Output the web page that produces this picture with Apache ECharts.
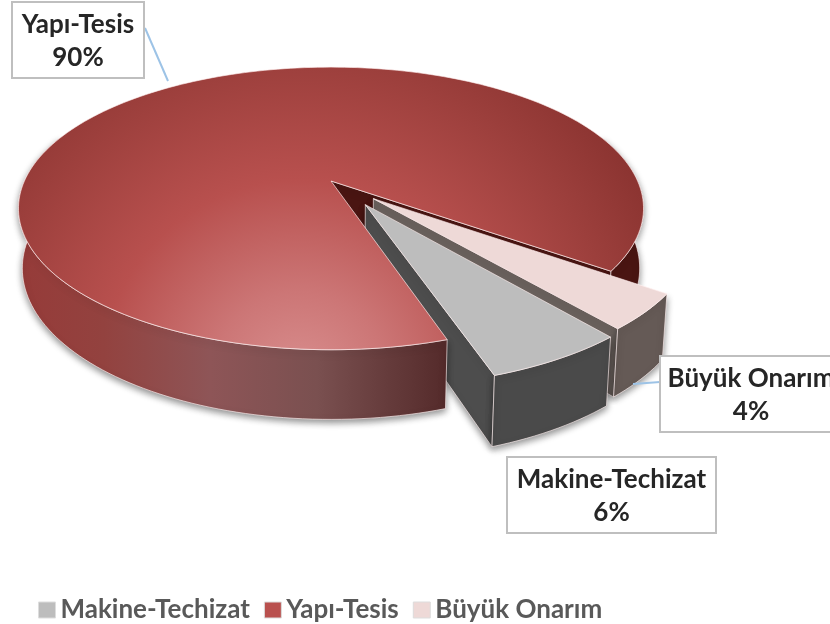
<!DOCTYPE html>
<html lang="tr">
<head>
    <meta charset="UTF-8">
    <script src="https://cdn.jsdelivr.net/npm/echarts@6/dist/echarts.min.js"></script>
    <title>Yapı-Tesis</title>
    <style>
        html, body { margin: 0; padding: 0; background: #fff; }
    </style>
</head>
<body>
<div id="main" style="width: 830px;height:624px;"></div>

<script>
    var sliceNames = ['Makine-Techizat', 'Yapı-Tesis', 'Büyük Onarım'];
    var sliceValues = [6, 90, 4];
    var legendColors = ['#bdbdbd', '#b9504e', '#eed9d7'];

    // where the first slice begins, degrees, clockwise from the right of the pie
    var firstAngle = 50.4;
    var explode = [0.2, 0, 0.185];
    var explodeTurn = [-4, 0, 0];

    // perspective of the pie, fitted to the picture
    var view = { cx: 331, cy: 181, a: 136, b: 306.6, k: 0.194, wall: 59, shrink: 0.012 };

    var labelBoxes = [
        { x: 507, y: 457, w: 209, h: 76 },
        { x: 12, y: 2, w: 132, h: 76 },
        { x: 660, y: 356, w: 182, h: 76 }
    ];
    var leaderLines = [
        null,
        [[145, 28], [168, 81]],
        [[660, 382], [633, 384]]
    ];

    var fontName = 'Lato, Carlito, "Open Sans", sans-serif';
    var edgeColor = 'rgba(255,240,240,0.65)';
    var darkRed = '#4a1512';

    function project(x, z, low) {
        var d = 1 - view.k * z + (low ? view.shrink : 0);
        return [view.cx + view.b * x / d, view.cy + (view.a * z + (low ? view.wall : 0)) / d];
    }

    function rad(deg) {
        return deg * Math.PI / 180;
    }

    function sliceAngles() {
        var total = sliceValues.reduce(function (s, v) { return s + v; }, 0);
        var from = firstAngle;
        return sliceValues.map(function (v, i) {
            var sweep = v / total * 360;
            var item = { from: from, to: from + sweep, mid: from + sweep / 2 };
            item.ox = explode[i] * Math.cos(rad(item.mid + explodeTurn[i]));
            item.oz = explode[i] * Math.sin(rad(item.mid + explodeTurn[i]));
            from += sweep;
            return item;
        });
    }
    var angles = sliceAngles();

    function rimPoint(s, deg, low) {
        return project(s.ox + Math.cos(rad(deg)), s.oz + Math.sin(rad(deg)), low);
    }

    function arcPoints(s, from, to, low) {
        var pts = [];
        var n = Math.max(2, Math.ceil(Math.abs(to - from) / 1.5));
        for (var i = 0; i <= n; i++) {
            pts.push(rimPoint(s, from + (to - from) * i / n, low));
        }
        return pts;
    }

    function poly(points, fill, z2, shadow) {
        var style = { fill: fill, stroke: edgeColor, lineWidth: 1 };
        if (shadow) {
            style.shadowBlur = 7;
            style.shadowOffsetY = 3;
            style.shadowColor = 'rgba(0,0,0,0.45)';
        }
        return { type: 'polygon', z2: z2, shape: { points: points }, style: style };
    }

    function topFace(s, from, to, fill, z2) {
        return poly([project(s.ox, s.oz)].concat(arcPoints(s, from, to)), fill, z2);
    }

    function outerWall(s, from, to, fill, z2) {
        var upper = arcPoints(s, from, to);
        var lower = arcPoints(s, to, from, true);
        return poly(upper.concat(lower), fill, z2, true);
    }

    function cutWall(s, deg, fill, z2) {
        return poly([
            project(s.ox, s.oz),
            rimPoint(s, deg),
            rimPoint(s, deg, true),
            project(s.ox, s.oz, true)
        ], fill, z2, true);
    }

    function labelParts(i, value) {
        var box = labelBoxes[i];
        var parts = [];
        if (leaderLines[i]) {
            parts.push({
                type: 'polyline', z2: 30, shape: { points: leaderLines[i] },
                style: { fill: null, stroke: '#9dc3e6', lineWidth: 2 }
            });
        }
        parts.push({
            type: 'rect', z2: 31, shape: { x: box.x, y: box.y, width: box.w, height: box.h },
            style: { fill: '#fff', stroke: '#bfbfbf', lineWidth: 2 }
        });
        parts.push({
            type: 'text', z2: 32,
            style: {
                x: box.x + box.w / 2, y: box.y + box.h / 2 + 1,
                text: sliceNames[i] + '\n' + value + '%',
                align: 'center', verticalAlign: 'middle',
                fontFamily: fontName, fontWeight: 'bold', fontSize: 26, lineHeight: 33,
                fill: '#262626'
            }
        });
        return parts;
    }

    var redTop = {
        type: 'radial', x: 300, y: 380, r: 400, global: true,
        colorStops: [
            { offset: 0, color: '#d98f8f' },
            { offset: 0.22, color: '#cc7676' },
            { offset: 0.5, color: '#b8504e' },
            { offset: 0.8, color: '#9c3f3c' },
            { offset: 1, color: '#8a3330' }
        ]
    };
    var redWall = {
        type: 'linear', x: 18, y: 0, x2: 445, y2: 0, global: true,
        colorStops: [
            { offset: 0, color: '#963b39' },
            { offset: 0.2, color: '#93423f' },
            { offset: 0.45, color: '#8e5557' },
            { offset: 0.7, color: '#7a5050' },
            { offset: 1, color: '#552b2b' }
        ]
    };

    // what each slice draws; z2 keeps the pieces in painter's order
    var sliceDrawers = [
        function (s) {
            return [
                cutWall(s, s.to, '#4d4d4d', 6),
                outerWall(s, s.from, s.to, '#4a4a4a', 7),
                topFace(s, s.from, s.to, '#bdbdbd', 8)
            ];
        },
        function (s) {
            return [
                cutWall(s, s.to, darkRed, 1),
                outerWall(s, 340, s.to, darkRed, 1),
                outerWall(s, s.from, 200, redWall, 9),
                topFace(s, s.from, s.to, redTop, 10)
            ];
        },
        function (s) {
            return [
                cutWall(s, s.to, '#6a615d', 3),
                outerWall(s, s.from, s.to, '#655a56', 4),
                topFace(s, s.from, s.to, '#eed9d7', 5)
            ];
        }
    ];

    function renderSlice(i) {
        return function (params, api) {
            var value = api.value(0);
            return {
                type: 'group',
                children: sliceDrawers[i](angles[i]).concat(labelParts(i, value))
            };
        };
    }

    var chartDom = document.getElementById('main');
    var myChart = echarts.init(chartDom);
    var option = {
        animation: false,
        legend: {
            left: 38,
            top: 597,
            padding: 0,
            itemWidth: 17,
            itemHeight: 16,
            itemGap: 14,
            textStyle: { fontFamily: fontName, fontWeight: 'bold', fontSize: 26, color: '#595959' },
            data: sliceNames.map(function (name, i) {
                return { name: name, icon: 'rect', itemStyle: { color: legendColors[i], borderColor: '#dddddd', borderWidth: 1 } };
            })
        },
        series: sliceNames.map(function (name, i) {
            return {
                type: 'custom',
                name: name,
                coordinateSystem: 'none',
                silent: true,
                itemStyle: { color: legendColors[i] },
                renderItem: renderSlice(i),
                data: [[sliceValues[i]]]
            };
        })
    };
    myChart.setOption(option);
</script>
</body>
</html>
